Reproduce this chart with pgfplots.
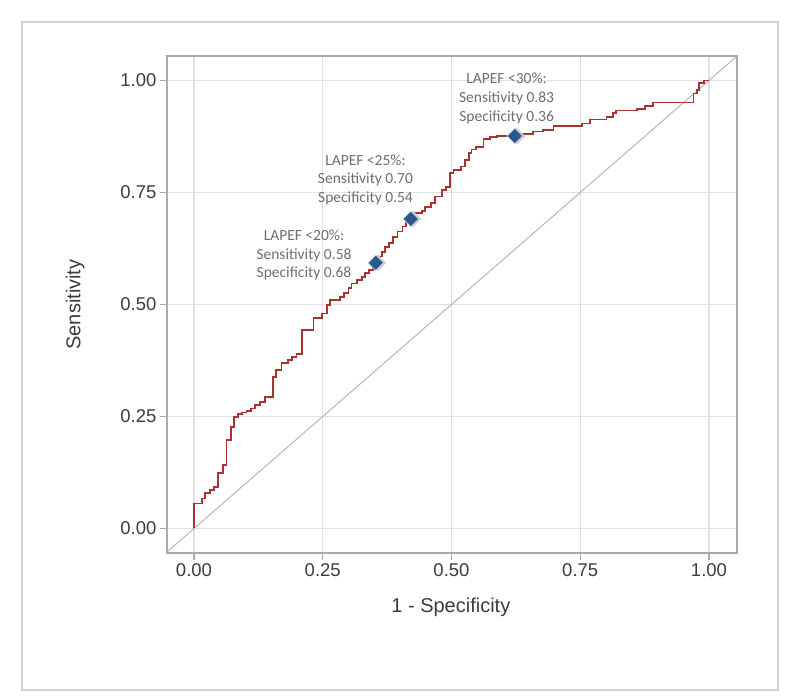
\documentclass[border=0pt]{standalone}
\usepackage{pgfplots}
\pgfplotsset{compat=1.18}
\usepackage{fontspec}
\setmainfont{Liberation Sans}
\newfontfamily\carlito{Carlito}
\definecolor{roc}{RGB}{168,52,48}
\definecolor{mk}{RGB}{44,87,140}
\definecolor{frm}{RGB}{170,170,170}
\definecolor{grd}{RGB}{225,225,225}
\definecolor{txt}{RGB}{60,60,60}
\definecolor{ann}{RGB}{110,110,110}
\begin{document}
\begin{tikzpicture}[x=1pt,y=1pt]
\useasboundingbox (0,0) rectangle (800,700);
\draw[color=black!18, line width=1.5pt] (22,10) rectangle (778,678);
\begin{axis}[
  at={(167pt,147pt)}, anchor=south west,
  width=570pt, height=497pt, scale only axis,
  xmin=-0.0524, xmax=1.0544, ymin=-0.0547, ymax=1.0547,
  xtick={0,0.25,0.5,0.75,1}, ytick={0,0.25,0.5,0.75,1},
  xticklabels={0.00,0.25,0.50,0.75,1.00},
  yticklabels={0.00,0.25,0.50,0.75,1.00},
  tick align=outside, major tick length=7pt,
  tick style={color=frm, line width=1.2pt},
  axis line style={color=frm, line width=1.5pt},
  xtick pos=bottom, ytick pos=left,
  grid=major, major grid style={color=grd, line width=1.2pt},
  tick label style={font=\fontsize{18.5}{22}\selectfont, color=txt},
  /pgf/number format/assume math mode=true,
  xlabel={1 - Specificity}, ylabel={Sensitivity},
  label style={font=\fontsize{20}{24}\selectfont, color=txt},
  xlabel style={at={(axis description cs:0.498,-0.109)}, anchor=center},
  ylabel style={at={(axis description cs:-0.161,0.5)}, anchor=center},
  clip=true,
]
\addplot[color=frm!85, line width=1pt] coordinates {(-0.07,-0.07) (1.07,1.07)};
\addplot[const plot, color=roc, line width=1.8pt] coordinates {
(0,0) (0,0.056) (0.015,0.067) (0.022,0.079) (0.031,0.086) (0.039,0.093)
(0.047,0.123) (0.057,0.142) (0.063,0.198) (0.072,0.227) (0.078,0.248)
(0.086,0.255) (0.093,0.259) (0.102,0.262) (0.111,0.268) (0.119,0.276)
(0.128,0.283) (0.138,0.293) (0.154,0.339) (0.160,0.354) (0.170,0.369)
(0.183,0.376) (0.190,0.382) (0.199,0.390) (0.209,0.443) (0.232,0.469)
(0.248,0.480) (0.258,0.499) (0.264,0.510) (0.283,0.517) (0.291,0.526)
(0.300,0.536) (0.306,0.547) (0.317,0.555) (0.326,0.562) (0.332,0.571)
(0.340,0.577) (0.347,0.585) (0.353,0.595) (0.361,0.607) (0.365,0.618)
(0.371,0.629) (0.379,0.638) (0.386,0.650) (0.395,0.663) (0.405,0.674)
(0.412,0.685) (0.419,0.693) (0.429,0.704) (0.442,0.709) (0.449,0.717)
(0.460,0.726) (0.468,0.741) (0.481,0.756) (0.489,0.762) (0.497,0.793)
(0.504,0.800) (0.518,0.808) (0.526,0.823) (0.534,0.838) (0.539,0.846)
(0.548,0.851) (0.562,0.869) (0.575,0.873) (0.588,0.876) (0.632,0.880)
(0.659,0.886) (0.678,0.890) (0.698,0.898) (0.753,0.904) (0.769,0.913)
(0.801,0.919) (0.814,0.927) (0.819,0.933) (0.860,0.936) (0.876,0.943)
(0.892,0.951) (0.970,0.971) (0.976,0.979) (0.980,0.994) (0.990,1.0) (1.0,1.0)
};
\addplot[only marks, mark=square*, mark size=5.5pt,
  mark options={rotate=45, fill=black!20, draw=black!20, xshift=1.5pt, yshift=-1.5pt}]
  coordinates {(0.353,0.593) (0.421,0.691) (0.623,0.876)};
\addplot[only marks, mark=square*, mark size=5.5pt,
  mark options={rotate=45, fill=mk, draw=white!80!mk, line width=0.6pt}]
  coordinates {(0.353,0.593) (0.421,0.691) (0.623,0.876)};
\begin{scope}[every node/.style={align=center, color=ann,
   font=\carlito\fontsize{15.5}{18.7}\selectfont}]
\node at (axis cs:0.2136,0.610) {LAPEF <20\%:\\Sensitivity 0.58\\Specificity 0.68};
\node at (axis cs:0.333,0.778) {LAPEF <25\%:\\Sensitivity 0.70\\Specificity 0.54};
\node at (axis cs:0.607,0.960) {LAPEF <30\%:\\Sensitivity 0.83\\Specificity 0.36};
\end{scope}
\end{axis}
\end{tikzpicture}
\end{document}
